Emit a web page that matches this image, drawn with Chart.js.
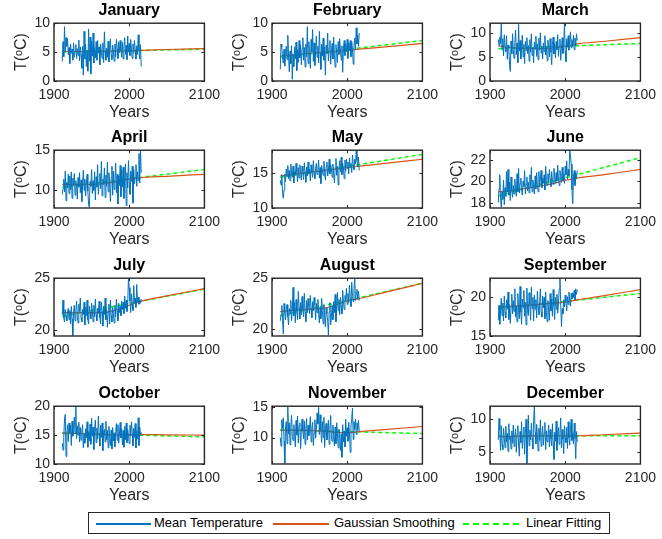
<!DOCTYPE html>
<html>
<head>
<meta charset="utf-8">
<script src="https://cdn.jsdelivr.net/npm/chart.js@4"></script>
<style>
body { margin: 0; background: #fff; }
#fig { position: relative; width: 662px; height: 539px; font-family: "Liberation Sans", Arial, sans-serif; }
.panel { position: absolute; width: 226px; height: 132px; }
#legend { position: absolute; left: 88px; top: 512px; width: 520px; height: 20px; border: 1px solid #262626; background: #fff; font-size: 13px; color: #000; }
#legend .sw { position: absolute; top: 10px; height: 1.5px; }
#legend .tx { position: absolute; top: 2px; white-space: nowrap; }
</style>
</head>
<body>
<div id="fig">
  <div id="legend">
    <div class="sw" style="left:7px;width:55px;background:#0072BD"></div>
    <div class="tx" style="left:65px">Mean Temperature</div>
    <div class="sw" style="left:184px;width:56px;background:#D95319"></div>
    <div class="tx" style="left:245px">Gaussian Smoothing</div>
    <div class="sw" style="left:374px;width:56px;height:0;border-top:2px dashed #00FF00"></div>
    <div class="tx" style="left:437px">Linear Fitting</div>
  </div>
</div>
<script>
var months = ['January', 'February', 'March', 'April', 'May', 'June', 'July', 'August', 'September', 'October', 'November', 'December'];

// observation years 1911..2016
var years = [];
for (var yr = 1911; yr <= 2016; yr++) years.push(yr);

var janTemp = [3.4,6.8,4.2,9.4,5.1,7.5,6.0,7.3,4.5,5.8, 3.0,6.4,4.8,5.5,3.6,6.6,4.1,5.2,6.3,3.9, 5.6,4.4,7.1,3.5,5.9,4.6,2.2,6.0,1.0,8.6, 3.8,6.4,2.5,5.3,1.7,9.0,3.4,7.6,1.2,6.9, 4.3,8.3,3.1,5.8,4.0,6.8,3.6,7.0,4.8,5.9, 2.8,6.4,5.0,3.9,6.6,3.2,8.5,5.1,3.6,5.7, 4.1,6.9,3.3,5.4,7.3,4.5,3.7,6.2,5.0,3.4, 6.4,4.2,7.2,5.6,3.9,6.8,4.9,7.0,5.3,4.1, 6.7,3.8,5.9,7.5,4.6,6.2,3.7,7.8,5.0,6.5, 4.4,7.2,5.5,3.9,6.4,4.8,7.0,5.4,3.8,6.1, 4.6,8.0,5.2,3.8,6.3,2.5];
var febTemp = [2.0,6.4,5.8,4.2,3.1,5.5,2.6,4.8,6.0,3.7, 7.9,4.3,1.6,5.2,3.0,6.1,0.3,4.6,2.5,5.9, 3.8,6.7,1.8,5.4,3.2,7.0,4.0,6.2,2.8,5.6, 7.5,3.6,5.8,2.4,6.4,4.2,9.4,3.0,6.8,4.5, 2.2,7.2,5.0,8.9,3.4,6.6,2.7,5.4,7.8,4.1, 6.0,3.1,8.6,4.9,2.0,6.4,4.3,7.4,3.6,5.8, 1.0,6.2,4.7,8.3,3.5,5.6,7.0,2.9,5.1,6.5, 3.8,7.6,4.5,2.4,6.3,5.0,3.2,6.8,4.6,7.3, 5.2,3.6,6.1,1.5,5.7,7.0,4.4,6.4,5.1,7.2, 3.9,6.6,5.3,7.0,4.2,6.8,5.5,2.9,6.2,7.4, 5.4,9.2,6.4,7.9,6.0,8.3];
var marTemp = [8.6,7.4,9.1,7.8,11.9,6.5,8.8,5.2,9.6,7.0, 6.1,9.4,4.5,7.5,6.8,3.4,2.0,8.3,5.6,9.8, 6.4,4.7,8.0,10.6,5.5,7.9,3.8,11.8,6.2,8.4, 4.6,7.2,9.5,5.0,7.6,3.6,8.2,6.3,9.0,5.7, 7.4,4.1,8.6,6.0,9.8,5.3,7.0,3.8,8.1,6.6, 9.3,5.1,7.7,4.4,8.9,6.4,10.0,5.8,7.2,4.6, 7.9,6.1,9.4,5.4,7.3,4.2,8.5,6.9,5.0,8.8, 6.0,3.4,7.6,9.1,5.6,7.8,4.8,8.2,6.5,9.6, 5.1,7.3,8.7,4.3,6.8,9.0,5.7,7.5,12.0,6.2, 4.0,8.8,7.0,9.4,6.4,8.1,10.2,6.9,8.6,7.1, 9.5,6.5,8.9,7.3,9.8,8.4];
var aprTemp = [9.5,10.2,11.4,9.8,12.4,8.7,11.0,10.3,12.0,9.6, 11.8,10.1,12.3,9.0,11.5,10.6,12.1,9.4,11.2,10.8, 8.9,11.6,10.4,12.2,9.7,11.3,8.6,10.9,12.5,10.0, 11.4,9.3,10.8,12.0,9.9,8.2,7.9,11.1,10.5,12.6, 9.6,11.2,10.0,12.3,8.8,11.7,10.4,13.2,9.5,11.0, 12.1,10.2,13.6,9.3,11.4,10.7,12.8,9.1,11.9,10.5, 13.5,9.8,12.2,10.9,8.6,11.6,13.0,9.4,12.4,10.1, 11.3,13.4,9.7,12.0,8.3,11.8,10.6,13.1,9.2,12.6, 10.4,12.9,9.0,11.5,13.3,8.1,12.2,10.3,13.7,11.0, 9.5,12.4,11.1,13.0,8.4,12.6,10.8,11.6,13.2,10.5, 12.3,11.2,14.6,10.9,15.0,12.2];
var mayTemp = [14.0,13.3,14.8,12.2,11.4,12.6,14.9,13.8,15.6,14.5, 16.1,14.2,15.4,13.9,16.3,15.0,14.4,16.0,13.6,15.2, 14.7,16.4,15.1,13.8,15.8,14.3,16.2,15.5,14.0,16.0, 15.3,14.1,16.5,15.0,13.7,15.9,14.6,16.6,14.9,15.6, 13.9,16.2,15.2,14.4,16.8,15.0,14.2,15.7,16.4,14.8, 15.5,16.9,14.3,15.8,13.5,16.1,15.4,14.7,16.7,15.1, 14.0,15.9,16.6,14.6,15.3,17.0,14.9,16.2,15.6,14.4, 16.3,15.0,13.6,15.8,17.1,14.7,16.0,13.3,15.4,16.8, 15.2,17.3,14.8,16.4,15.6,14.2,16.9,15.3,17.0,15.7, 16.6,14.9,17.2,15.8,16.4,15.1,17.6,16.2,15.5,17.0, 16.3,18.2,16.8,15.9,17.3,15.4];
var junTemp = [18.0,19.3,20.6,18.4,17.6,19.0,18.3,20.1,17.8,19.4, 18.6,20.9,19.0,21.1,18.7,19.9,18.2,20.4,19.1,18.5, 19.6,18.8,20.2,19.3,18.6,20.7,19.0,21.2,18.9,19.8, 20.3,19.2,18.7,20.0,19.5,21.0,18.8,19.7,20.4,19.1, 19.9,18.9,20.6,19.4,21.3,19.0,20.1,19.6,18.8,20.5, 19.3,20.8,19.7,19.0,20.9,19.5,20.2,21.0,19.4,20.3, 19.8,20.6,19.2,21.4,20.0,19.6,20.7,19.9,21.1,20.2, 19.5,20.9,20.1,19.7,21.2,20.4,19.8,20.8,20.0,21.5, 20.3,19.6,21.0,20.5,19.9,21.3,20.1,20.7,19.8,21.4, 20.6,21.9,20.2,21.1,20.5,22.9,22.4,21.6,19.2,17.9, 20.4,21.0,19.6,20.8,20.2,21.0];
var julTemp = [21.5,22.9,21.2,20.8,22.0,21.4,20.9,21.8,22.1,21.0, 21.9,20.6,22.3,21.1,19.5,21.7,22.4,20.9,21.6,22.8, 21.3,20.7,22.5,21.8,23.1,21.2,20.8,22.0,21.5,22.7, 20.5,22.2,21.4,22.9,21.0,20.6,22.3,21.7,21.1,22.6, 21.9,20.8,22.4,21.3,23.0,21.5,20.9,22.1,21.6,22.8, 21.2,20.6,22.7,21.8,20.4,22.3,21.5,23.1,21.0,22.0, 20.3,21.8,22.5,20.6,22.9,21.4,20.8,22.2,21.6,20.7, 22.4,21.3,23.0,21.9,20.9,22.6,21.7,22.3,21.4,22.8, 22.0,22.7,21.6,23.3,22.1,22.9,21.8,22.5,25.0,24.1, 22.8,21.7,23.5,22.4,21.9,24.3,22.6,23.1,22.2,24.4, 22.7,23.2,22.5,22.9,22.6,23.0];
var augTemp = [20.8,21.4,22.3,21.0,19.5,22.5,21.6,20.9,21.9,22.4, 21.2,20.4,22.0,21.5,22.8,20.8,21.7,24.1,21.3,22.6, 20.6,22.9,21.8,20.9,23.7,22.1,21.0,22.6,21.4,23.2, 22.0,21.2,23.5,21.7,20.7,22.8,21.6,23.0,22.2,21.5, 23.3,22.0,21.1,22.7,21.8,23.1,22.4,20.9,22.5,21.6, 22.9,21.4,20.6,22.2,21.0,23.0,21.8,20.5,22.4,21.3, 20.2,22.1,21.5,20.8,19.4,21.7,22.6,20.4,21.2,22.3, 20.9,22.7,21.6,23.4,20.7,22.0,23.6,21.8,22.9,21.4, 23.1,22.3,21.5,23.8,22.6,21.9,23.3,22.8,24.0,22.4, 23.5,22.6,24.3,23.0,22.2,24.6,23.2,22.7,23.9,24.9, 22.8,23.6,23.9,22.9,23.7,22.8];
var sepTemp = [17.0,18.9,16.5,18.2,19.8,17.6,19.2,16.9,20.1,18.0, 17.3,19.6,18.4,20.6,17.1,19.0,16.6,18.7,20.3,17.8, 19.5,18.1,21.0,17.4,18.8,16.8,20.4,18.3,17.2,21.3, 18.0,16.5,19.7,18.6,20.8,17.5,19.3,16.4,21.1,18.2, 17.6,20.5,18.9,17.0,21.2,18.5,19.9,16.9,20.2,18.4, 19.6,17.3,20.7,18.8,17.7,19.4,21.0,18.1,17.4,20.1, 18.6,19.9,17.2,20.6,18.0,16.8,19.5,18.3,17.0,20.4, 18.2,19.7,17.5,20.9,18.8,17.1,19.9,18.4,20.3,17.9, 19.1,21.0,22.3,19.3,16.2,18.5,17.8,19.6,18.7,20.2, 19.4,18.2,20.0,19.0,20.6,19.5,18.8,20.4,19.7,20.5, 19.9,20.8,19.6,21.0,20.3,20.9];
var octTemp = [13.6,12.4,14.6,17.8,18.6,11.3,15.0,16.8,13.9,17.1, 15.4,16.7,13.2,17.4,14.8,16.0,18.1,15.3,19.9,14.4, 16.6,15.0,17.2,13.8,16.3,14.1,15.7,16.8,12.8,15.2, 13.6,16.1,14.5,17.3,12.9,15.6,14.0,16.9,13.4,17.9, 14.8,16.4,12.5,15.9,17.6,13.7,16.2,14.3,18.3,15.1, 13.1,16.7,14.6,17.1,12.3,15.5,16.0,13.8,17.4,14.2, 15.8,12.8,16.5,14.4,13.2,15.9,12.6,16.3,14.0,15.4, 13.0,15.6,17.0,14.1,16.8,13.6,15.2,17.2,14.5,16.1, 13.3,15.8,12.9,16.5,14.2,17.1,13.7,16.0,15.0,13.5, 16.7,14.8,17.3,15.4,13.1,16.2,14.6,17.0,12.8,15.7, 14.3,18.0,13.2,16.4,14.9,15.5];
var novTemp = [10.0,8.6,12.9,11.5,13.2,9.4,5.8,11.8,12.6,9.0, 15.0,10.6,12.4,8.8,11.7,13.6,10.2,9.5,12.1,11.0, 8.5,12.8,10.4,13.5,9.1,11.9,12.4,8.2,10.9,13.0, 11.2,9.8,12.7,8.9,11.4,13.1,9.6,12.0,10.3,11.8, 13.4,9.3,11.6,12.5,8.7,10.8,12.9,9.9,11.3,14.0, 12.2,14.9,10.5,13.7,11.1,9.2,12.6,10.0,13.3,8.4, 11.5,12.3,9.6,10.9,12.8,8.9,11.2,13.6,10.1,9.4, 12.0,10.4,8.6,11.7,9.0,12.4,10.7,8.3,11.4,9.8, 7.9,10.6,6.8,12.1,9.3,11.0,8.5,13.0,10.2,11.6, 9.4,12.5,10.8,7.6,11.9,13.1,14.8,9.7,12.6,11.3, 13.0,10.5,12.4,11.2,12.8,11.0];
var decTemp = [6.8,10.1,8.4,5.2,9.0,6.1,5.3,8.6,7.2,5.6, 8.9,6.5,7.8,5.0,9.3,6.9,7.4,5.4,8.2,6.3, 9.1,5.8,7.0,8.5,4.9,7.7,9.0,6.0,4.3,8.1, 6.4,9.6,5.5,7.3,8.8,4.6,7.9,10.0,3.2,6.6, 10.6,5.9,8.3,6.8,9.4,7.1,5.4,9.8,12.0,8.0, 6.2,9.2,7.5,5.1,8.6,6.7,9.9,5.8,7.6,8.9, 6.0,7.9,9.5,5.3,8.2,6.5,7.4,9.1,5.7,8.4, 7.0,5.9,9.3,6.3,3.8,8.0,6.6,9.7,5.2,7.3, 8.7,6.1,7.8,10.2,5.6,8.4,6.9,4.7,9.0,7.2, 6.4,8.8,5.5,9.6,7.1,6.0,8.6,10.0,6.7,7.9, 6.2,9.4,7.0,3.9,8.1,6.5];
var meanTemp = [janTemp, febTemp, marTemp, aprTemp, mayTemp, junTemp, julTemp, augTemp, sepTemp, octTemp, novTemp, decTemp];

// gaussian smoothing curve, read at these years
var smoothYears = [1911, 1930, 1950, 1970, 1990, 2000, 2016, 2050, 2100];
var smoothTemp = [
  [5.1, 5.1, 5.1, 5.15, 5.2, 5.25, 5.3, 5.45, 5.6],
  [4.3, 4.55, 4.8, 4.95, 5.15, 5.3, 5.5, 5.9, 6.5],
  [7.3, 6.9, 6.75, 6.75, 6.95, 7.2, 7.7, 8.2, 9.0],
  [10.75, 10.75, 10.75, 10.9, 11.2, 11.4, 11.6, 11.75, 12.0],
  [14.6, 14.9, 15.15, 15.4, 15.65, 15.8, 16.0, 16.4, 17.0],
  [19.0, 19.15, 19.35, 19.6, 19.9, 20.1, 20.3, 20.6, 21.1],
  [21.7, 21.7, 21.7, 21.75, 22.1, 22.4, 22.8, 23.3, 24.0],
  [21.7, 21.85, 21.95, 22.05, 22.5, 22.75, 23.0, 23.6, 24.5],
  [18.7, 18.8, 18.9, 19.05, 19.2, 19.3, 19.6, 20.1, 20.9],
  [15.4, 15.3, 15.2, 15.1, 15.05, 15.05, 15.1, 15.05, 15.0],
  [11.2, 11.2, 11.15, 11.05, 10.8, 10.8, 10.95, 11.3, 11.8],
  [7.3, 7.35, 7.4, 7.45, 7.45, 7.45, 7.45, 7.6, 7.85]
];

// linear fit end points
var fitYears = [1911, 2100];
var fitTemp = [[5.0, 5.5], [4.1, 7.0], [6.7, 7.8], [10.4, 12.6], [14.4, 17.7], [18.65, 22.2],
  [21.35, 23.95], [21.3, 24.5], [18.5, 20.4], [15.3, 14.7], [11.25, 10.65], [7.4, 7.45]];

// axis limits
var yMin = [0, 0, 0, 7.8, 10, 17.5, 19.45, 19.3, 15, 10, 5.7, 3.1];
var yMax = [10, 10, 12, 15, 18.3, 22.9, 25, 25, 22.35, 20, 15.1, 12];
var yStep = [5, 5, 5, 5, 5, 2, 5, 5, 5, 5, 5, 5];

var colLeft = [0, 218, 436];
var rowTop = [-1, 126, 254, 382];
var FONT = '"Liberation Sans", Arial, sans-serif';

var boxPlugin = {
  id: 'box',
  afterDraw: function (chart) {
    var ctx = chart.ctx, a = chart.chartArea, xs = chart.scales.x, ys = chart.scales.y;
    ctx.save();
    ctx.strokeStyle = '#262626';
    ctx.lineWidth = 1;
    ctx.beginPath();
    xs.ticks.forEach(function (t) {
      var px = Math.round(xs.getPixelForValue(t.value)) + 0.5;
      ctx.moveTo(px, a.bottom); ctx.lineTo(px, a.bottom - 3);
      ctx.moveTo(px, a.top); ctx.lineTo(px, a.top + 3);
    });
    ys.ticks.forEach(function (t) {
      var py = Math.round(ys.getPixelForValue(t.value)) + 0.5;
      ctx.moveTo(a.left, py); ctx.lineTo(a.left + 3, py);
      ctx.moveTo(a.right, py); ctx.lineTo(a.right - 3, py);
    });
    ctx.stroke();
    ctx.lineWidth = 1.4;
    ctx.strokeRect(a.left, a.top, a.right - a.left, a.bottom - a.top);
    ctx.restore();
  }
};

var fig = document.getElementById('fig');
months.forEach(function (name, m) {
  var div = document.createElement('div');
  div.className = 'panel';
  div.style.left = colLeft[m % 3] + 'px';
  div.style.top = rowTop[Math.floor(m / 3)] + 'px';
  var cv = document.createElement('canvas');
  cv.width = 226;
  cv.height = 132;
  div.appendChild(cv);
  fig.insertBefore(div, fig.firstChild);

  new Chart(cv, {
    type: 'line',
    data: {
      datasets: [
        {
          label: 'Mean Temperature',
          data: years.map(function (y, i) { return {x: y, y: meanTemp[m][i]}; }),
          borderColor: '#0072BD',
          borderWidth: 1,
          pointRadius: 0,
          tension: 0
        },
        {
          label: 'Gaussian Smoothing',
          data: smoothYears.map(function (y, i) { return {x: y, y: smoothTemp[m][i]}; }),
          borderColor: '#D95319',
          borderWidth: 1.2,
          pointRadius: 0,
          cubicInterpolationMode: 'monotone'
        },
        {
          label: 'Linear Fitting',
          data: fitYears.map(function (y, i) { return {x: y, y: fitTemp[m][i]}; }),
          borderColor: '#00FF00',
          borderWidth: 1.5,
          borderDash: [4, 3],
          pointRadius: 0
        }
      ]
    },
    options: {
      responsive: false,
      animation: false,
      devicePixelRatio: 1,
      layout: { padding: { left: 0, right: 18, top: 0, bottom: 0 } },
      plugins: {
        legend: { display: false },
        tooltip: { enabled: false },
        title: {
          display: true,
          fullSize: false,
          text: name,
          color: '#000',
          font: { family: FONT, size: 16, weight: 'bold' },
          padding: { top: 2, bottom: 3 }
        }
      },
      scales: {
        x: {
          type: 'linear',
          min: 1900, max: 2100,
          grid: { display: false, drawTicks: false },
          border: { display: false },
          ticks: { stepSize: 100, padding: 6, maxRotation: 0, color: '#262626',
            font: { family: FONT, size: 14 },
            callback: function (v) { return String(v); } },
          title: { display: true, text: 'Years', color: '#262626', padding: { top: 0, bottom: 9 },
            font: { family: FONT, size: 16 } },
          afterFit: function (s) { s.height = 50; }
        },
        y: {
          min: yMin[m], max: yMax[m],
          grid: { display: false, drawTicks: false },
          border: { display: false },
          ticks: { stepSize: yStep[m], includeBounds: false, padding: 4, color: '#262626',
            font: { family: FONT, size: 14 },
            callback: function (v) { return String(v); } },
          title: { display: true, text: 'T(ᵒC)', color: '#262626', padding: { top: 12, bottom: 0 },
            font: { family: FONT, size: 16 } },
          afterFit: function (s) { s.width = 54; }
        }
      }
    },
    plugins: [boxPlugin]
  });
});
</script>
</body>
</html>
